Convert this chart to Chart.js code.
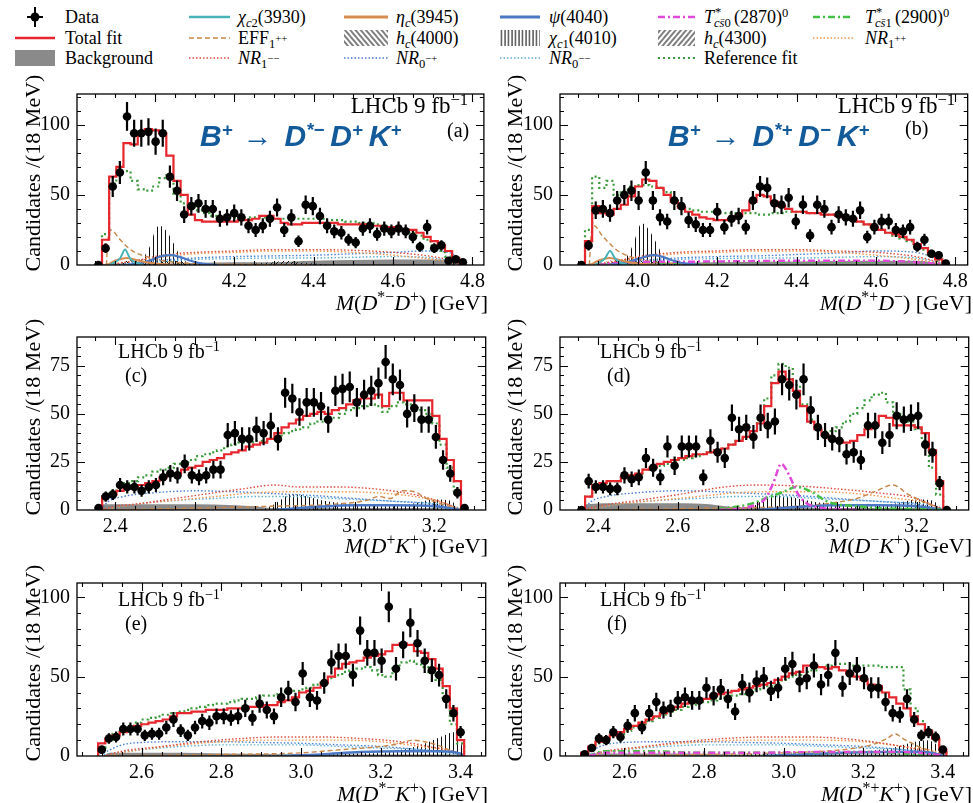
<!DOCTYPE html>
<html><head><meta charset="utf-8">
<script src="https://cdn.jsdelivr.net/npm/chart.js@4.4.1/dist/chart.umd.min.js"></script>
<style>
html,body{margin:0;padding:0;background:#fff;}
body{width:973px;height:803px;position:relative;overflow:hidden;font-family:"Liberation Serif",serif;color:#000;}
canvas{position:absolute;}
.t{position:absolute;white-space:nowrap;font-family:"Liberation Serif",serif;line-height:20px;font-size:20px;}
.t sup{font-size:72%;line-height:0;vertical-align:0.5em;}
.xt{font-size:22px;line-height:22px;}
.big{font-size:23px;line-height:23px;}
.lg{position:absolute;white-space:nowrap;font-size:18px;line-height:18px;font-family:"Liberation Serif",serif;}
.lg sub,.lg sup{font-size:70%;line-height:0;}
.lg sub{vertical-align:-0.3em;}
.lg sup{vertical-align:0.45em;}
.lg sub sup{font-size:85%;vertical-align:0.6em;}
.st{display:inline-block;position:relative;width:20px;height:18px;vertical-align:top;}
.st .sp{position:absolute;left:1px;top:-5px;font-size:70%;}
.st .sb{position:absolute;left:0;top:6px;font-size:70%;}
.yt{position:absolute;width:240px;text-align:center;font-size:22px;line-height:22px;transform:rotate(-90deg);white-space:nowrap;}
.blue{position:absolute;white-space:nowrap;font-family:"Liberation Sans",Arial,sans-serif;font-weight:bold;font-style:italic;font-size:30px;line-height:30px;color:#135a9b;}
.blue sup{font-size:62%;vertical-align:0.55em;line-height:0;}
.blue .ar{font-style:normal;font-weight:normal;font-family:"Liberation Sans",sans-serif;font-size:30px;margin:0 12px 0 10px;}
.blue .g{margin-left:6px;}
</style></head><body>

<svg style="position:absolute;left:0;top:0" width="973" height="72">
<defs>
<pattern id="pv" width="3.5" height="4" patternUnits="userSpaceOnUse"><line x1="1" y1="0" x2="1" y2="4" stroke="#000" stroke-width="1"/></pattern>
<pattern id="pbs" width="4" height="4" patternUnits="userSpaceOnUse" patternTransform="rotate(-40)"><line x1="1" y1="0" x2="1" y2="4" stroke="#000" stroke-width="1"/></pattern>
<pattern id="psl" width="4" height="4" patternUnits="userSpaceOnUse" patternTransform="rotate(40)"><line x1="1" y1="0" x2="1" y2="4" stroke="#000" stroke-width="1"/></pattern>
</defs>
<line x1="35" y1="7" x2="35" y2="27" stroke="#000" stroke-width="2"/>
<line x1="27" y1="17" x2="43" y2="17" stroke="#000" stroke-width="2"/>
<circle cx="35" cy="17" r="4.5" fill="#000"/>
<line x1="15" y1="38" x2="55" y2="38" stroke="#e8262d" stroke-width="2.5"/>
<rect x="15" y="50" width="40" height="16" fill="#8a8a8a"/>
<line x1="189" y1="17" x2="230" y2="17" stroke="#48b3b8" stroke-width="2.5"/>
<line x1="189" y1="38" x2="230" y2="38" stroke="#c8864a" stroke-width="1.5" stroke-dasharray="5,3"/>
<line x1="189" y1="58" x2="230" y2="58" stroke="#dd4b3e" stroke-width="1.5" stroke-dasharray="1.5,2"/>
<line x1="344" y1="17" x2="388" y2="17" stroke="#d98c50" stroke-width="3"/>
<rect x="344" y="30" width="44" height="16" fill="url(#pbs)"/>
<line x1="344" y1="58" x2="388" y2="58" stroke="#4a7fd0" stroke-width="1.5" stroke-dasharray="1.5,2"/>
<line x1="500" y1="17" x2="540" y2="17" stroke="#4a78c4" stroke-width="3"/>
<rect x="500" y="30" width="40" height="16" fill="url(#pv)"/>
<line x1="500" y1="58" x2="540" y2="58" stroke="#5fb0d8" stroke-width="1.5" stroke-dasharray="1.5,2"/>
<line x1="658" y1="17" x2="695" y2="17" stroke="#e048d8" stroke-width="2.5" stroke-dasharray="7,3,2,3"/>
<rect x="658" y="30" width="37" height="16" fill="url(#psl)"/>
<line x1="658" y1="58" x2="695" y2="58" stroke="#3a9a3a" stroke-width="2.2" stroke-dasharray="2,3"/>
<line x1="813" y1="17" x2="853" y2="17" stroke="#44c044" stroke-width="2.5" stroke-dasharray="7,3,2,3"/>
<line x1="813" y1="38" x2="853" y2="38" stroke="#f0964a" stroke-width="1.5" stroke-dasharray="1.5,2"/>
</svg>
<div class="lg" style="left:65px;top:8px">Data</div>
<div class="lg" style="left:65px;top:29px">Total fit</div>
<div class="lg" style="left:65px;top:49px">Background</div>
<div class="lg" style="left:238px;top:8px"><i>χ</i><sub><i>c</i>2</sub>(3930)</div>
<div class="lg" style="left:238px;top:29px">EFF<sub>1<sup>++</sup></sub></div>
<div class="lg" style="left:238px;top:49px"><i>NR</i><sub>1<sup>−−</sup></sub></div>
<div class="lg" style="left:396px;top:8px"><i>η<sub>c</sub></i>(3945)</div>
<div class="lg" style="left:396px;top:29px"><i>h<sub>c</sub></i>(4000)</div>
<div class="lg" style="left:396px;top:49px"><i>NR</i><sub>0<sup>−+</sup></sub></div>
<div class="lg" style="left:549px;top:8px"><i>ψ</i>(4040)</div>
<div class="lg" style="left:549px;top:29px"><i>χ</i><sub><i>c</i>1</sub>(4010)</div>
<div class="lg" style="left:549px;top:49px"><i>NR</i><sub>0<sup>−−</sup></sub></div>
<div class="lg" style="left:704px;top:8px"><i>T</i><span class="st"><span class="sp">*</span><span class="sb"><i>cs̄</i>0</span></span>(2870)<sup>0</sup></div>
<div class="lg" style="left:704px;top:29px"><i>h<sub>c</sub></i>(4300)</div>
<div class="lg" style="left:704px;top:49px">Reference fit</div>
<div class="lg" style="left:865px;top:8px"><i>T</i><span class="st"><span class="sp">*</span><span class="sb"><i>cs̄</i>1</span></span>(2900)<sup>0</sup></div>
<div class="lg" style="left:865px;top:29px"><i>NR</i><sub>1<sup>++</sup></sub></div>

<script>
// ================= DATA =================
const BIN_W = 0.018; // 18 MeV bins

// x-axis / y-axis tick labels
const xTicksTop = [4.0, 4.2, 4.4, 4.6, 4.8];
const xTicksMid = [2.4, 2.6, 2.8, 3.0, 3.2];
const xTicksBot = [2.6, 2.8, 3.0, 3.2, 3.4];
const yTicksTop = [0, 50, 100];
const yTicksMid = [0, 25, 50, 75];
const yTicksBot = [0, 50, 100];

// ---- (a) M(D*- D+) ----
const aStart = 3.858;
const aData  = [0,12,56,66,106,94,94,95,88,94,63,53,36,42,44,40,40,33,34,37,34,28,25,28,33,41,25,34,17,43,42,35,28,24,23,18,16,26,28,22,26,24,26,24,20,13,27,12,14,3,4,2];
const aTotal = [0,18,63,70,87,86,94,97,96,94,78,60,50,36,32,31,31,31,31,31,32,32,33,35,35,33,30,29,29,30,30,30,30,30,29,29,29,29,28,28,27,27,26,25,25,23,20,17,14,10,5,0];
const aRef   = [0,22,58,67,67,60,54,53,56,62,64,50,44,41,39,37,35,34,34,34,34,34,34,34,34,33,33,33,33,33,33,33,32,32,32,31,31,30,30,29,28,27,26,25,23,21,18,14,10,6,3,0];
const aBkg    = [[3.865,0],[3.88,1],[4.0,1],[4.1,1.5],[4.2,2],[4.3,2],[4.4,3],[4.5,3.5],[4.6,4],[4.7,4],[4.75,3],[4.785,0]];
const aNR1mm  = [[3.88,0],[3.95,3],[4.0,6],[4.05,8],[4.1,9],[4.2,10],[4.3,11],[4.4,11],[4.5,10.5],[4.6,9],[4.7,6],[4.75,3],[4.785,0]];
const aNR1pp  = [[3.88,0],[4.0,5],[4.1,8],[4.2,9],[4.3,10],[4.4,10],[4.5,9],[4.6,7],[4.7,4],[4.785,0]];
const aNR0mp  = [[3.88,0],[4.0,3],[4.1,5],[4.2,6],[4.3,6.5],[4.4,7],[4.5,8],[4.6,9],[4.68,10],[4.74,9],[4.785,0]];
const aNR0mm  = [[3.88,0],[4.0,2],[4.1,4],[4.2,4.5],[4.3,5],[4.4,5],[4.5,5.5],[4.6,6],[4.7,5],[4.785,0]];
const aEFF    = [[3.878,0],[3.882,18],[3.89,25],[3.91,19],[3.93,13],[3.95,9],[3.98,6],[4.02,3],[4.1,1],[4.2,0.5],[4.4,0]];
const aChic2  = [[3.885,0],[3.9,2],[3.913,5],[3.925,11],[3.937,5],[3.95,2],[3.97,0]];
const aEtac   = [[3.88,0],[3.9,3],[3.93,5],[3.96,3],[4.0,1],[4.05,0]];
const aPsi    = [[3.93,0],[3.96,1],[3.99,3.5],[4.02,6.5],[4.04,7],[4.06,6],[4.09,3],[4.12,1],[4.16,0]];
const aChic1  = [[3.95,0],[3.97,5],[3.99,15],[4.0,24],[4.01,28],[4.02,27],[4.035,22],[4.05,14],[4.065,6],[4.08,2],[4.1,0]];
const aHc4000 = [[3.9,0],[3.93,3],[3.97,4],[4.0,4],[4.05,3],[4.1,1],[4.15,0]];
const aHc4300 = [[4.2,0],[4.25,1],[4.3,2],[4.33,3],[4.36,2],[4.4,1],[4.45,0]];

// ---- (b) M(D*+ D-) ----
const bStart = 3.858;
const bData  = [0,14,39,40,37,46,50,53,46,66,46,34,31,46,42,32,29,25,25,38,27,33,35,27,46,56,55,44,43,48,31,43,21,43,40,27,36,34,33,39,20,27,31,31,25,24,27,13,18,8,7,1];
const bTotal = [0,17,42,37,36,40,43,49,56,61,60,55,50,45,41,38,36,34,33,32,32,33,35,39,45,50,49,45,42,40,38,38,37,37,36,36,35,34,33,31,29,27,25,23,22,20,18,15,12,8,4,0];
const bRef   = [0,25,63,55,60,50,53,56,57,57,56,55,52,46,42,40,39,38,38,37,37,37,37,37,37,36,36,37,37,38,38,38,37,37,37,36,35,34,33,31,29,27,25,23,21,19,17,14,11,7,3,0];
const bBkg    = [[3.865,0],[3.88,1],[4.0,1.5],[4.2,2],[4.4,2.5],[4.6,3],[4.7,3],[4.785,0]];
const bNR1mm  = [[3.88,0],[3.95,3],[4.0,6],[4.1,9],[4.2,10],[4.3,11],[4.4,11],[4.5,10],[4.6,9],[4.7,6],[4.785,0]];
const bNR1pp  = [[3.88,0],[4.0,5],[4.1,8],[4.2,9],[4.3,10],[4.4,10],[4.5,9],[4.6,7],[4.7,4],[4.785,0]];
const bNR0mp  = [[3.88,0],[4.0,3],[4.1,5],[4.2,6],[4.3,6.5],[4.4,7.5],[4.5,8.5],[4.6,10],[4.7,9],[4.785,0]];
const bNR0mm  = [[3.88,0],[4.0,2],[4.1,4],[4.2,4.5],[4.3,5],[4.4,5],[4.5,5.5],[4.6,6],[4.7,5],[4.785,0]];
const bEFF    = [[3.878,0],[3.882,20],[3.89,28],[3.91,21],[3.93,15],[3.95,10],[3.98,6],[4.02,3],[4.1,1],[4.2,0]];
const bChic2  = [[3.89,0],[3.905,2],[3.918,5],[3.93,10],[3.942,5],[3.955,2],[3.975,0]];
const bEtac   = [[3.88,0],[3.9,3],[3.93,5],[3.96,3],[4.0,1],[4.05,0]];
const bPsi    = [[3.93,0],[3.96,1],[3.99,3.5],[4.02,6],[4.04,7],[4.06,6],[4.09,3],[4.12,1],[4.16,0]];
const bChic1  = [[3.95,0],[3.97,5],[3.99,16],[4.0,25],[4.01,30],[4.02,28],[4.035,22],[4.05,14],[4.065,6],[4.08,2],[4.1,0]];
const bHc4000 = [[3.9,0],[3.93,3],[3.97,4],[4.0,4],[4.05,3],[4.1,1],[4.15,0]];
const bTcs0   = [[3.9,0],[3.95,1.5],[4.0,2],[4.2,2.5],[4.4,3],[4.6,3],[4.7,2],[4.785,0]];
const bTcs1   = [[3.9,0],[3.95,1],[4.0,1.5],[4.2,2],[4.4,2.5],[4.6,2.5],[4.7,2],[4.785,0]];

// ---- (c) M(D+ K+) ----
const cStart = 2.358;
const cData  = [1,7,8,13,12,12,10,12,13,17,19,18,24,18,17,18,21,21,39,40,37,37,42,40,44,37,61,58,51,56,56,54,47,62,63,64,56,60,62,66,77,68,65,50,53,47,47,38,26,19,9,1];
const cTotal = [0,7,8,10,11,12,13,14,15,17,18,19,21,22,23,25,26,27,29,30,31,33,34,35,37,40,43,45,47,49,50,51,50,52,53,55,57,58,58,60,54,61,61,57,57,57,57,49,37,26,15,0];
const cRef   = [0,8,10,12,14,15,17,18,20,21,22,24,25,26,28,29,30,31,33,34,35,35,36,36,37,38,40,41,42,43,45,46,47,48,50,52,53,54,55,54,51,54,56,55,53,52,50,45,34,22,10,0];
const cBkg    = [[2.364,0],[2.37,3],[2.5,3],[2.6,3],[2.7,2.5],[2.75,2],[2.8,1],[3.0,1],[3.2,1],[3.265,0]];
const cNR1mm  = [[2.365,0],[2.4,2],[2.45,3],[2.55,6],[2.65,9],[2.72,11],[2.8,13],[2.86,12],[2.95,12],[3.05,11],[3.15,8],[3.22,4],[3.268,0]];
const cNR1pp  = [[2.365,0],[2.45,3],[2.55,5],[2.65,7],[2.75,9],[2.85,9.5],[2.95,9.5],[3.05,9],[3.15,7],[3.22,4],[3.268,0]];
const cNR0mp  = [[2.365,0],[2.38,4],[2.42,7],[2.5,9],[2.6,10],[2.7,9.5],[2.8,8.5],[2.9,7.5],[3.0,6],[3.1,4.5],[3.2,3],[3.268,0]];
const cNR0mm  = [[2.365,0],[2.45,3],[2.55,5],[2.65,6],[2.75,7],[2.85,7],[2.95,6],[3.05,5],[3.15,4],[3.25,2],[3.268,0]];
const cEFF    = [[2.365,0],[2.6,1],[2.8,2],[2.95,3],[3.03,5],[3.06,7],[3.09,6],[3.12,10],[3.15,9.5],[3.18,6],[3.22,3],[3.268,0]];
const cChic1  = [[2.76,0],[2.79,2],[2.82,6],[2.84,8],[2.86,8],[2.88,7],[2.9,6],[2.92,5],[2.95,4],[3.0,3],[3.05,2],[3.1,2],[3.15,3.5],[3.2,5.5],[3.24,5],[3.265,0]];
const cPsi    = [[2.8,0],[2.9,1.5],[3.0,2.5],[3.1,2.5],[3.2,2],[3.265,0]];

// ---- (d) M(D- K+) ----
const dStart = 2.358;
const dData  = [0,15,12,12,11,11,18,16,17,27,22,17,33,23,33,33,33,17,36,30,27,48,42,43,38,48,44,46,68,65,60,68,52,43,39,37,36,29,30,26,44,44,35,39,49,47,48,49,34,30,14,0];
const dTotal = [0,7,13,14,15,15,17,18,19,21,22,24,25,26,27,28,29,29,30,31,32,34,36,38,41,45,54,66,72,68,62,54,46,42,39,37,36,35,36,39,42,44,49,48,44,44,44,43,40,31,15,0];
const dRef   = [0,7,13,14,15,15,17,18,19,21,22,23,24,25,26,27,28,29,30,31,32,34,36,38,41,47,58,70,76,74,65,55,47,43,41,41,43,46,50,53,57,60,61,56,50,48,46,42,36,22,8,0];
const dBkg    = [[2.364,0],[2.37,3],[2.45,3.5],[2.6,3.5],[2.68,3],[2.72,2],[2.8,1],[3.0,1],[3.2,1],[3.265,0]];
const dNR1mm  = [[2.365,0],[2.4,2],[2.5,5],[2.6,8],[2.72,12],[2.8,13],[2.9,12.5],[3.0,11],[3.1,9],[3.2,6],[3.268,0]];
const dNR1pp  = [[2.365,0],[2.45,3],[2.55,5],[2.65,7],[2.75,9],[2.85,9.5],[2.95,9.5],[3.05,8.5],[3.15,6],[3.22,4],[3.268,0]];
const dNR0mp  = [[2.365,0],[2.38,4],[2.42,7],[2.5,9],[2.6,10],[2.7,9.5],[2.8,8.5],[2.9,7.5],[3.0,6],[3.1,4.5],[3.2,3],[3.268,0]];
const dNR0mm  = [[2.365,0],[2.45,3],[2.55,5],[2.65,6],[2.75,7],[2.85,7],[2.95,6],[3.05,5],[3.15,4],[3.25,2],[3.268,0]];
const dEFF    = [[2.365,0],[2.7,1],[2.9,2],[3.0,4],[3.05,6],[3.1,10],[3.14,13],[3.18,8],[3.22,4],[3.268,0]];
const dChic1  = [[2.76,0],[2.79,2],[2.82,6],[2.84,7.5],[2.86,7.5],[2.88,7],[2.9,6],[2.95,4],[3.0,3],[3.05,2],[3.1,2],[3.15,3.5],[3.2,5.5],[3.24,5],[3.265,0]];
const dPsi    = [[2.8,0],[2.9,1.5],[3.0,2.5],[3.1,2.5],[3.2,2],[3.265,0]];
const dTcs0   = [[2.7,0],[2.76,1],[2.8,3],[2.82,6],[2.84,14],[2.86,24],[2.88,18],[2.9,9],[2.92,4],[2.95,1.5],[3.0,0.5],[3.05,0]];
const dTcs1   = [[2.7,0.5],[2.78,3],[2.82,6],[2.86,9],[2.9,12],[2.94,9],[2.97,5],[3.0,3],[3.05,2],[3.1,1],[3.2,0.5],[3.265,0]];

// ---- (e) M(D*- K+) ----
const eStart = 2.500;
const eData  = [4,11,12,17,17,17,13,14,14,18,23,16,13,18,22,21,25,25,24,25,30,24,33,29,25,37,41,34,52,37,35,46,59,63,63,51,79,65,65,60,94,55,70,84,71,60,54,51,36,27,15];
const eTotal = [8,11,13,15,17,19,20,21,22,23,25,27,27,28,28,29,29,29,30,30,30,31,31,32,32,34,35,37,40,41,43,46,50,55,58,59,60,62,63,64,66,70,71,70,66,65,61,55,44,30,10];
const eRef   = [5,10,14,17,19,21,23,24,25,26,27,28,29,30,31,32,33,33,34,35,36,36,37,38,38,39,40,41,42,43,45,47,49,51,53,54,55,56,54,51,50,56,59,60,58,56,52,48,35,20,8];
const eBkg    = [[2.505,0],[2.52,2],[2.6,2],[2.7,2],[2.8,1.5],[3.0,1],[3.2,1],[3.4,1],[3.409,0]];
const eNR1mm  = [[2.505,0],[2.55,3],[2.65,6],[2.75,9],[2.85,11],[2.95,12],[3.05,12],[3.15,11],[3.25,9],[3.32,6],[3.38,3],[3.409,0]];
const eNR1pp  = [[2.505,0],[2.6,4],[2.7,7],[2.8,9],[2.9,10],[3.0,10],[3.1,10],[3.2,9],[3.3,6],[3.38,3],[3.409,0]];
const eNR0mp  = [[2.505,2],[2.55,7],[2.6,8.5],[2.7,9],[2.8,9],[2.9,8.5],[3.0,8],[3.1,7],[3.2,6],[3.3,4],[3.38,2],[3.409,0]];
const eNR0mm  = [[2.505,1],[2.6,4],[2.7,6],[2.8,7],[2.9,7],[3.0,7],[3.1,6],[3.2,5],[3.3,4],[3.409,0]];
const eEFF    = [[2.505,0],[2.8,1],[3.0,2],[3.1,4],[3.2,6],[3.25,8],[3.28,10],[3.31,9],[3.34,7],[3.38,3],[3.409,0]];
const eChic1  = [[2.9,0],[3.0,1],[3.1,1.5],[3.2,2],[3.25,4],[3.3,7],[3.33,10],[3.36,13],[3.38,15],[3.4,10],[3.409,0]];
const ePsi    = [[2.95,0],[3.05,1],[3.15,2.5],[3.25,3],[3.35,3],[3.4,1.5],[3.409,0]];

// ---- (f) M(D*+ K+) ----
const fStart = 2.500;
const fData  = [1,5,11,10,15,12,19,27,18,27,34,29,30,35,37,35,35,43,38,42,36,28,45,40,47,49,41,43,55,58,47,49,57,45,51,65,44,52,55,49,43,43,34,27,26,36,23,13,15,12,4];
const fTotal = [2,6,9,11,13,15,17,19,21,23,25,27,29,31,33,34,35,36,38,39,40,41,42,43,44,45,46,48,50,52,53,57,57,56,55,56,54,52,50,48,45,44,40,37,33,30,25,20,16,11,4];
const fRef   = [2,5,8,10,12,14,16,18,20,22,24,26,28,29,31,32,33,34,35,36,37,38,39,40,42,43,44,46,48,50,51,53,54,56,57,58,58,58,57,57,57,57,56,56,56,42,30,22,16,10,4];
const fBkg    = [[2.505,0],[2.52,1.5],[2.7,1.5],[2.9,1],[3.2,1],[3.4,1],[3.409,0]];
const fNR1mm  = [[2.505,0],[2.55,3],[2.65,6],[2.75,9],[2.85,11],[2.95,12],[3.05,12],[3.15,11],[3.25,8],[3.32,5],[3.409,0]];
const fNR1pp  = [[2.505,0],[2.6,4],[2.7,7],[2.8,9],[2.9,10],[3.0,10],[3.1,10],[3.2,9],[3.3,6],[3.38,3],[3.409,0]];
const fNR0mp  = [[2.505,2],[2.55,7],[2.6,8.5],[2.7,9],[2.8,9],[2.9,8.5],[3.0,8],[3.1,7],[3.2,6],[3.3,4],[3.38,2],[3.409,0]];
const fNR0mm  = [[2.505,1],[2.6,4],[2.7,6],[2.8,7],[2.9,7],[3.0,7],[3.1,6],[3.2,5],[3.3,4],[3.409,0]];
const fEFF    = [[2.505,0],[2.8,1],[3.0,2],[3.15,4],[3.22,7],[3.26,11],[3.28,14],[3.3,11],[3.33,7],[3.37,3],[3.409,0]];
const fChic1  = [[2.85,0],[2.9,1],[3.0,1.5],[3.1,2],[3.2,3],[3.27,5],[3.3,7],[3.33,9],[3.36,10],[3.38,8],[3.409,0]];
const fPsi    = [[2.95,0],[3.05,1],[3.15,2],[3.25,2.5],[3.35,2.5],[3.409,0]];
const fTcs0   = [[2.51,0],[2.55,2],[2.7,2],[2.9,2],[3.1,2.5],[3.3,2.5],[3.409,0]];
const fTcs1   = [[2.51,0],[2.55,3],[2.65,3],[2.8,2],[3.0,2],[3.2,2.5],[3.409,0]];

// ================= STYLE / HELPERS =================
const COL = {
  total:'#e8262d', ref:'#3a9a3a', bkg:'#8a8a8a', chic2:'#48b3b8', etac:'#d98c50', psi:'#4a78c4',
  tcs0:'#e048d8', tcs1:'#44c044', eff:'#c8864a', nr1mm:'#dd4b3e', nr1pp:'#f0964a', nr0mp:'#4a7fd0', nr0mm:'#5fb0d8'
};
function hatch(kind){
  const c=document.createElement('canvas'); const s=kind==='v'?4:5; c.width=s; c.height=s;
  const g=c.getContext('2d'); g.strokeStyle='#111'; g.lineWidth=1; g.beginPath();
  if(kind==='v'){ g.moveTo(1.5,0); g.lineTo(1.5,s); }
  else if(kind==='b'){ g.moveTo(0,0); g.lineTo(s,s); g.moveTo(-1,s-1); g.lineTo(1,s+1); g.moveTo(s-1,-1); g.lineTo(s+1,1); }
  else { g.moveTo(0,s); g.lineTo(s,0); g.moveTo(-1,1); g.lineTo(1,-1); g.moveTo(s-1,s+1); g.lineTo(s+1,s-1); }
  g.stroke();
  return g.createPattern(c,'repeat');
}
const PAT_V = hatch('v'), PAT_B = hatch('b'), PAT_S = hatch('s');

function stepPts(start, vals){
  const h=BIN_W/2, n=vals.length;
  const pts=[{x:start-h,y:0}];
  vals.forEach((v,i)=>pts.push({x:start+i*BIN_W-h,y:v}));
  pts.push({x:start+(n-1)*BIN_W+h,y:vals[n-1]});
  pts.push({x:start+(n-1)*BIN_W+h,y:0});
  return pts;
}
function dataDS(start, vals){
  return {label:'Data', data: vals.map((v,i)=>({x:start+i*BIN_W,y:v})), showLine:false,
    pointRadius:4.3, pointBackgroundColor:'#000', pointBorderColor:'#000', pointBorderWidth:0};
}
function stepDS(start, vals, color, width, dash){
  return {data: stepPts(start, vals), stepped:'before', borderColor:color, borderWidth:width,
    borderDash:dash||[], pointRadius:0, fill:false, tension:0};
}
function curveDS(pts, color, width, dash){
  return {data: pts.map(p=>({x:p[0],y:p[1]})), borderColor:color, borderWidth:width, borderDash:dash||[],
    pointRadius:0, fill:false, cubicInterpolationMode:'monotone'};
}
function fillDS(pts, bg){
  return {data: pts.map(p=>({x:p[0],y:p[1]})), borderColor:'rgba(0,0,0,0)', borderWidth:0, backgroundColor:bg,
    pointRadius:0, fill:'origin', cubicInterpolationMode:'monotone'};
}
const DOT=[1.5,2], DASH=[5,3], DASHDOT=[7,3,2,3], REFDOT=[2,3];

function makePanel(p){
  const cv=document.createElement('canvas');
  cv.width=p.cw; cv.height=p.ch; cv.style.left=p.cx+'px'; cv.style.top=p.cy+'px';
  document.body.appendChild(cv);
  const frame={ id:'frame', afterDraw(chart){
    const {ctx, chartArea:a}=chart; const xs=chart.scales.x, ys=chart.scales.y;
    ctx.save(); ctx.strokeStyle='#000'; ctx.lineWidth=1.3;
    ctx.strokeRect(a.left, a.top, a.right-a.left, a.bottom-a.top);
    ctx.lineWidth=1.1; ctx.beginPath();
    const vt=(v,len)=>{const px=Math.round(xs.getPixelForValue(v))+0.5; if(px<a.left+1||px>a.right-1) return;
      ctx.moveTo(px,a.bottom); ctx.lineTo(px,a.bottom-len); ctx.moveTo(px,a.top); ctx.lineTo(px,a.top+len);};
    const ht=(v,len)=>{const py=Math.round(ys.getPixelForValue(v))+0.5; if(py<a.top+1||py>a.bottom-1) return;
      ctx.moveTo(a.left,py); ctx.lineTo(a.left+len,py); ctx.moveTo(a.right,py); ctx.lineTo(a.right-len,py);};
    const n0=Math.ceil(p.xmin/0.05), n1=Math.floor(p.xmax/0.05);
    for(let k=n0;k<=n1;k++) vt(k*0.05,4);
    p.xticks.forEach(v=>vt(v,8));
    for(let v=p.yminor; v<=p.ymax; v+=p.yminor) ht(v,4);
    p.yticks.forEach(v=>ht(v,8));
    ctx.stroke(); ctx.restore();
  }};
  const errbars={ id:'errbars', afterDatasetsDraw(chart){
    const {ctx, chartArea:a}=chart; const xs=chart.scales.x, ys=chart.scales.y;
    const ds=chart.data.datasets[0];
    ctx.save(); ctx.beginPath(); ctx.rect(a.left,a.top,a.right-a.left,a.bottom-a.top); ctx.clip();
    ctx.strokeStyle='#000'; ctx.lineWidth=2.2; ctx.beginPath();
    ds.data.forEach(pt=>{
      const e=Math.sqrt(pt.y); const px=xs.getPixelForValue(pt.x);
      if(e>0){ ctx.moveTo(px, ys.getPixelForValue(pt.y-e)); ctx.lineTo(px, ys.getPixelForValue(pt.y+e)); }
      const py=ys.getPixelForValue(pt.y);
      ctx.moveTo(xs.getPixelForValue(pt.x-BIN_W/2), py); ctx.lineTo(xs.getPixelForValue(pt.x+BIN_W/2), py);
    });
    ctx.stroke(); ctx.restore();
  }};
  const font={family:'Liberation Serif', size:20};
  new Chart(cv,{
    type:'line',
    data:{datasets:p.datasets},
    options:{
      responsive:false, animation:false, devicePixelRatio:1, events:[],
      layout:{padding:{top:p.padTop,right:p.padRight,left:0,bottom:0}},
      plugins:{legend:{display:false}, tooltip:{enabled:false}},
      scales:{
        x:{type:'linear', min:p.xmin, max:p.xmax, grid:{display:false,drawTicks:false}, border:{display:false},
           afterBuildTicks:s=>{s.ticks=p.xticks.map(v=>({value:v}));},
           afterFit:s=>{s.height=p.xh;},
           ticks:{autoSkip:false,maxRotation:0,padding:5,color:'#000',font,callback:v=>Number(v).toFixed(1)}},
        y:{type:'linear', min:0, max:p.ymax, grid:{display:false,drawTicks:false}, border:{display:false},
           afterBuildTicks:s=>{s.ticks=p.yticks.map(v=>({value:v}));},
           afterFit:s=>{s.width=p.yw;},
           ticks:{autoSkip:false,padding:7,color:'#000',font,callback:v=>String(v)}}
      }
    },
    plugins:[frame, errbars]
  });
}

function common(start, data, total, ref){
  return [dataDS(start,data), stepDS(start,total,COL.total,2.2), stepDS(start,ref,COL.ref,2.2,REFDOT)];
}
function nrSet(mm,pp,mp,m0){
  return [curveDS(mm,COL.nr1mm,1.4,DOT), curveDS(pp,COL.nr1pp,1.4,DOT), curveDS(mp,COL.nr0mp,1.4,DOT), curveDS(m0,COL.nr0mm,1.4,DOT)];
}

const ROW1={cy:75, ch:225, padTop:5, xh:35, ymax:122, yticks:yTicksTop, yminor:10};
const ROW2={cy:318, ch:222, padTop:6, xh:30, ymax:90, yticks:yTicksMid, yminor:5};
const ROW3={cy:564, ch:226, padTop:6, xh:34, ymax:109, yticks:yTicksBot, yminor:10};
const LEFT={cx:0, cw:490, yw:77, padRight:2};
const RIGHT={cx:490, cw:483, yw:70, padRight:1};

makePanel(Object.assign({}, ROW1, LEFT, {xmin:3.804, xmax:4.829, xticks:xTicksTop, datasets:[
  ...common(aStart,aData,aTotal,aRef),
  curveDS(aChic2,COL.chic2,2), curveDS(aEtac,COL.etac,2), curveDS(aPsi,COL.psi,2.2),
  curveDS(aEFF,COL.eff,1.4,DASH), ...nrSet(aNR1mm,aNR1pp,aNR0mp,aNR0mm),
  fillDS(aChic1,PAT_V), fillDS(aHc4000,PAT_B), fillDS(aHc4300,PAT_S), fillDS(aBkg,COL.bkg)
]}));
makePanel(Object.assign({}, ROW1, RIGHT, {xmin:3.804, xmax:4.831, xticks:xTicksTop, datasets:[
  ...common(bStart,bData,bTotal,bRef),
  curveDS(bChic2,COL.chic2,2), curveDS(bEtac,COL.etac,2), curveDS(bPsi,COL.psi,2.2),
  curveDS(bTcs0,COL.tcs0,2.5,DASHDOT), curveDS(bTcs1,COL.tcs1,2.5,DASHDOT),
  curveDS(bEFF,COL.eff,1.4,DASH), ...nrSet(bNR1mm,bNR1pp,bNR0mp,bNR0mm),
  fillDS(bChic1,PAT_V), fillDS(bHc4000,PAT_B), fillDS(bBkg,COL.bkg)
]}));
makePanel(Object.assign({}, ROW2, LEFT, {xmin:2.304, xmax:3.329, xticks:xTicksMid, datasets:[
  ...common(cStart,cData,cTotal,cRef),
  curveDS(cPsi,COL.psi,2.5), curveDS(cEFF,COL.eff,1.4,DASH), ...nrSet(cNR1mm,cNR1pp,cNR0mp,cNR0mm),
  fillDS(cChic1,PAT_V), fillDS(cBkg,COL.bkg)
]}));
makePanel(Object.assign({}, ROW2, RIGHT, {xmin:2.304, xmax:3.331, xticks:xTicksMid, datasets:[
  ...common(dStart,dData,dTotal,dRef),
  curveDS(dTcs0,COL.tcs0,2.5,DASHDOT), curveDS(dTcs1,COL.tcs1,2.5,DASHDOT),
  curveDS(dPsi,COL.psi,2.5), curveDS(dEFF,COL.eff,1.4,DASH), ...nrSet(dNR1mm,dNR1pp,dNR0mp,dNR0mm),
  fillDS(dChic1,PAT_V), fillDS(dBkg,COL.bkg)
]}));
makePanel(Object.assign({}, ROW3, LEFT, {xmin:2.438, xmax:3.463, xticks:xTicksBot, datasets:[
  ...common(eStart,eData,eTotal,eRef),
  curveDS(ePsi,COL.psi,2.5), curveDS(eEFF,COL.eff,1.4,DASH), ...nrSet(eNR1mm,eNR1pp,eNR0mp,eNR0mm),
  fillDS(eChic1,PAT_V), fillDS(eBkg,COL.bkg)
]}));
makePanel(Object.assign({}, ROW3, RIGHT, {xmin:2.438, xmax:3.465, xticks:xTicksBot, datasets:[
  ...common(fStart,fData,fTotal,fRef),
  curveDS(fTcs0,COL.tcs0,2.5,DASHDOT), curveDS(fTcs1,COL.tcs1,2.5,DASHDOT),
  curveDS(fPsi,COL.psi,2.5), curveDS(fEFF,COL.eff,1.4,DASH), ...nrSet(fNR1mm,fNR1pp,fNR0mp,fNR0mm),
  fillDS(fChic1,PAT_V), fillDS(fBkg,COL.bkg)
]}));
</script>

<!-- axis titles and annotations -->
<div class="yt" style="left:-87px;top:162px">Candidates /(18 MeV)</div>
<div class="yt" style="left:395px;top:162px">Candidates /(18 MeV)</div>
<div class="yt" style="left:-87px;top:406px">Candidates /(18 MeV)</div>
<div class="yt" style="left:395px;top:406px">Candidates /(18 MeV)</div>
<div class="yt" style="left:-87px;top:652px">Candidates /(18 MeV)</div>
<div class="yt" style="left:395px;top:652px">Candidates /(18 MeV)</div>

<div class="t xt" style="right:485px;top:292px"><i>M</i>(<i>D</i><sup>*−</sup><i>D</i><sup>+</sup>) [GeV]</div>
<div class="t xt" style="right:1px;top:292px"><i>M</i>(<i>D</i><sup>*+</sup><i>D</i><sup>−</sup>) [GeV]</div>
<div class="t xt" style="right:485px;top:535px"><i>M</i>(<i>D</i><sup>+</sup><i>K</i><sup>+</sup>) [GeV]</div>
<div class="t xt" style="right:1px;top:535px"><i>M</i>(<i>D</i><sup>−</sup><i>K</i><sup>+</sup>) [GeV]</div>
<div class="t xt" style="right:485px;top:783px"><i>M</i>(<i>D</i><sup>*−</sup><i>K</i><sup>+</sup>) [GeV]</div>
<div class="t xt" style="right:1px;top:783px"><i>M</i>(<i>D</i><sup>*+</sup><i>K</i><sup>+</sup>) [GeV]</div>

<div class="t big" style="right:505px;top:94px">LHCb 9 fb<sup>−1</sup></div>
<div class="t" style="left:447px;top:120px">(a)</div>
<div class="t big" style="right:18px;top:94px">LHCb 9 fb<sup>−1</sup></div>
<div class="t" style="left:905px;top:118px">(b)</div>
<div class="t" style="left:118px;top:341px">LHCb 9 fb<sup>−1</sup></div>
<div class="t" style="left:125px;top:365px">(c)</div>
<div class="t" style="left:600px;top:341px">LHCb 9 fb<sup>−1</sup></div>
<div class="t" style="left:607px;top:365px">(d)</div>
<div class="t" style="left:118px;top:589px">LHCb 9 fb<sup>−1</sup></div>
<div class="t" style="left:125px;top:613px">(e)</div>
<div class="t" style="left:600px;top:589px">LHCb 9 fb<sup>−1</sup></div>
<div class="t" style="left:607px;top:613px">(f)</div>

<div class="blue" style="left:200px;top:121px">B<sup>+</sup><span class="ar">→</span>D<sup>*−</sup><span class="g">D<sup>+</sup></span><span class="g">K<sup>+</sup></span></div>
<div class="blue" style="left:668px;top:121px">B<sup>+</sup><span class="ar">→</span>D<sup>*+</sup><span class="g">D<sup>−</sup></span><span class="g">K<sup>+</sup></span></div>
</body></html>
